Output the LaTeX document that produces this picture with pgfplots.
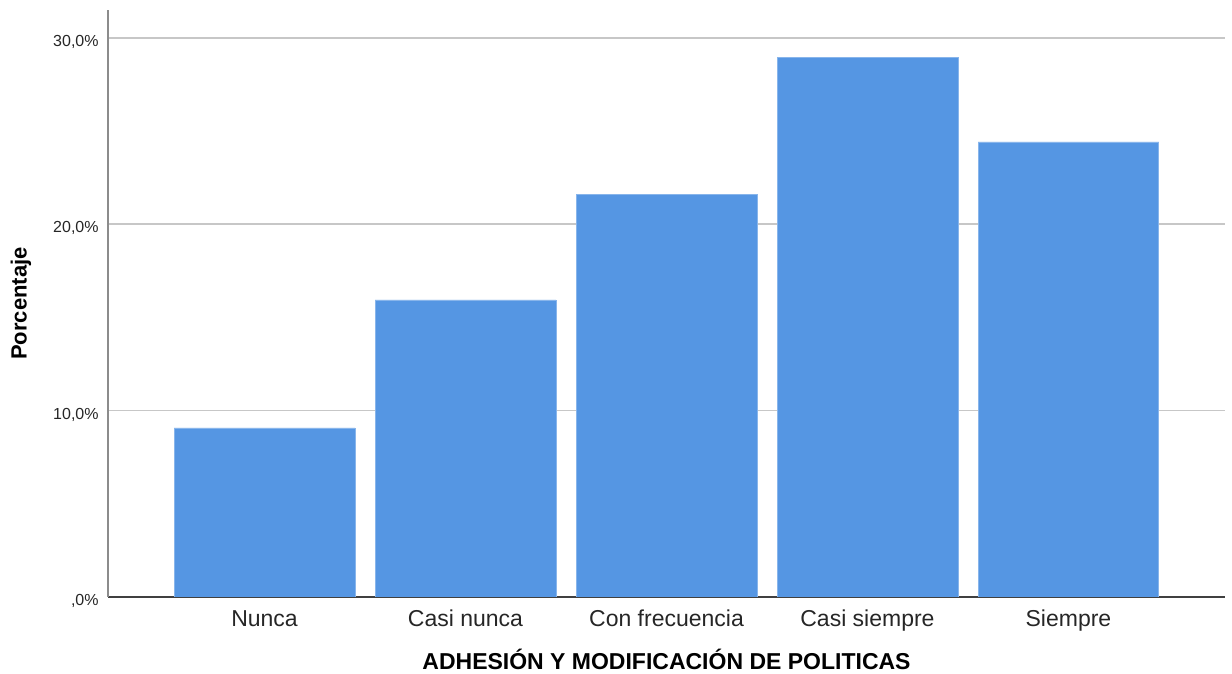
\documentclass[border=0pt]{standalone}
\usepackage{pgfplots}
\pgfplotsset{compat=1.18}
\usepackage{fontspec}
\setmainfont{Liberation Sans}
\definecolor{barblue}{HTML}{5596E3}
\begin{document}
\begin{tikzpicture}
\path[use as bounding box] (-54pt,-38.5pt) rectangle (562pt,298.5pt);
\begin{axis}[
  at={(0,0)}, anchor=south west,
  scale only axis, width=558.5pt, height=293.5pt,
  xmin=-0.779, xmax=4.779, ymin=0, ymax=31.5,
  axis x line=bottom, axis y line=left, axis line style={-},
  x axis line style={draw=black!75, line width=0.7pt},
  y axis line style={draw=black!45, line width=0.7pt},
  xtick={0,1,2,3,4},
  xticklabels={Nunca,Casi nunca,Con frecuencia,Casi siempre,Siempre},
  ytick={0,10,20,30},
  yticklabels={{,0\%},{10,0\%},{20,0\%},{30,0\%}},
  major tick length=0pt,
  ymajorgrids, grid style={draw=black!22, line width=0.8pt},
  xticklabel style={font=\fontsize{11.5}{13}\selectfont, anchor=base, yshift=-15pt, text=black!85},
  yticklabel style={font=\fontsize{8}{9.6}\selectfont, anchor=base east, yshift=-4.2pt, xshift=-4.5pt, inner sep=0pt, text=black!85},
  xlabel={ADHESIÓN Y MODIFICACIÓN DE POLITICAS},
  xlabel style={font=\bfseries\fontsize{11.5}{13}\selectfont, at={(axis description cs:0.5,0)}, anchor=base, yshift=-36.5pt},
  ylabel={Porcentaje},
  ylabel style={font=\bfseries\fontsize{11}{13}\selectfont, at={(axis description cs:-0.0779,0.5)}, anchor=center},
]
\addplot[ybar, bar width=0.9, fill=barblue, draw=barblue!70!white, line width=0.4pt]
  coordinates {(0,9.07) (1,15.94) (2,21.58) (3,28.93) (4,24.42)};
\end{axis}
\end{tikzpicture}
\end{document}
